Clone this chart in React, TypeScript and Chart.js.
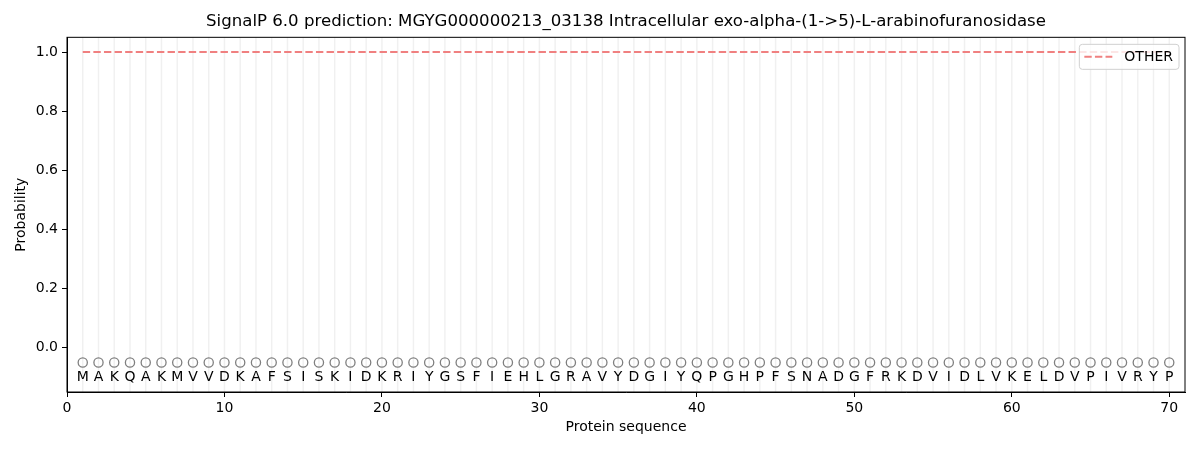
import React, { useEffect, useRef } from 'react';
import Chart from 'chart.js/auto';

const sequence = 'MAKQAKMVVDKAFSISKIDKRIYGSFIEHLGRAVYDGIYQPGHPFSNADGFRKDVIDLVKELDVPIVRYP'.split('');

const otherProb = [
  1, 1, 1, 1, 1, 1, 1, 1, 1, 1,
  1, 1, 1, 1, 1, 1, 1, 1, 1, 1,
  1, 1, 1, 1, 1, 1, 1, 1, 1, 1,
  1, 1, 1, 1, 1, 1, 1, 1, 1, 1,
  1, 1, 1, 1, 1, 1, 1, 1, 1, 1,
  1, 1, 1, 1, 1, 1, 1, 1, 1, 1,
  1, 1, 1, 1, 1, 1, 1, 1, 1, 1,
];

const xTicks = [0, 10, 20, 30, 40, 50, 60, 70];
const yTicks = [0, 0.2, 0.4, 0.6, 0.8, 1.0];

const markerY = -0.05;
const letterY = -0.1;

const FONT = "'DejaVu Sans', sans-serif";

// light vertical guides, one per residue
const residueLines = {
  id: 'residueLines',
  beforeDatasetsDraw(chart: any) {
    const { ctx, chartArea, scales } = chart;
    ctx.save();
    ctx.strokeStyle = 'rgba(0,0,0,0.06)';
    ctx.lineWidth = 1.5;
    sequence.forEach((_, i) => {
      const px = scales.x.getPixelForValue(i + 1);
      ctx.beginPath();
      ctx.moveTo(px, chartArea.top);
      ctx.lineTo(px, chartArea.bottom);
      ctx.stroke();
    });
    ctx.restore();
  },
};

const residueLetters = {
  id: 'residueLetters',
  afterDatasetsDraw(chart: any) {
    const { ctx, chartArea, scales } = chart;
    ctx.save();
    ctx.fillStyle = '#000';
    ctx.font = `14px ${FONT}`;
    ctx.textAlign = 'center';
    ctx.textBaseline = 'middle';
    const py = scales.y.getPixelForValue(letterY);
    sequence.forEach((aa, i) => {
      ctx.fillText(aa, scales.x.getPixelForValue(i + 1), py);
    });
    // top + right spines
    ctx.strokeStyle = '#000';
    ctx.lineWidth = 1;
    ctx.strokeRect(chartArea.left, chartArea.top, chartArea.right - chartArea.left, chartArea.bottom - chartArea.top);
    ctx.restore();
  },
};

const innerLegend = {
  id: 'innerLegend',
  afterDraw(chart: any) {
    const { ctx, chartArea } = chart;
    const ds = chart.data.datasets[0];
    ctx.save();
    ctx.font = `14px ${FONT}`;
    const tw = ctx.measureText(ds.label).width;
    const w = 45 + tw + 6;
    const h = 25;
    const x = chartArea.right - 6 - w;
    const y = chartArea.top + 7;
    ctx.fillStyle = 'rgba(255,255,255,0.8)';
    ctx.strokeStyle = '#d0d0d0';
    ctx.lineWidth = 1;
    ctx.beginPath();
    ctx.roundRect(x, y, w, h, 3);
    ctx.fill();
    ctx.stroke();
    ctx.strokeStyle = ds.borderColor;
    ctx.lineWidth = 2;
    ctx.setLineDash(ds.borderDash);
    ctx.beginPath();
    ctx.moveTo(x + 5, y + h / 2);
    ctx.lineTo(x + 33, y + h / 2);
    ctx.stroke();
    ctx.setLineDash([]);
    ctx.fillStyle = '#000';
    ctx.textBaseline = 'middle';
    ctx.fillText(ds.label, x + 45, y + h / 2 + 1);
    ctx.restore();
  },
};

const App: React.FC = () => {
  const chartRef = useRef<HTMLCanvasElement>(null);

  useEffect(() => {
    document.body.style.margin = '0';
    if (chartRef.current) {
      const myChart = new Chart(chartRef.current, {
        type: 'line',
        data: {
          datasets: [
            {
              label: 'OTHER',
              data: otherProb.map((p, i) => ({ x: i + 1, y: p })),
              borderColor: '#f08080',
              borderWidth: 2,
              borderDash: [7.4, 3.2],
              pointRadius: 0,
              fill: false,
              tension: 0,
            },
            {
              label: 'markers',
              data: sequence.map((_, i) => ({ x: i + 1, y: markerY })),
              showLine: false,
              pointStyle: 'circle',
              pointRadius: 4.6,
              pointBorderWidth: 1.3,
              pointBorderColor: '#7f7f7f',
              pointBackgroundColor: 'rgba(0,0,0,0)',
            },
          ],
        },
        options: {
          responsive: false,
          animation: false,
          layout: { padding: { left: 0, right: 15, top: 0, bottom: 0 } },
          scales: {
            x: {
              type: 'linear',
              min: 0,
              max: 71,
              afterBuildTicks: (s: any) => {
                s.ticks = xTicks.map((v) => ({ value: v }));
              },
              afterFit: (s: any) => {
                s.height = 58;
              },
              grid: { drawOnChartArea: false, drawTicks: true, tickLength: 5, color: '#000' },
              border: { display: true, color: '#000', width: 1 },
              ticks: { color: '#000', padding: 3, font: { family: FONT, size: 14 } },
              title: {
                display: true,
                text: 'Protein sequence',
                color: '#000',
                padding: { top: 0, bottom: 14 },
                font: { family: FONT, size: 14 },
              },
            },
            y: {
              type: 'linear',
              min: -0.15,
              max: 1.05,
              afterBuildTicks: (s: any) => {
                s.ticks = yTicks.map((v) => ({ value: v }));
              },
              afterFit: (s: any) => {
                s.width = 67;
              },
              grid: { drawOnChartArea: false, drawTicks: true, tickLength: 5, color: '#000' },
              border: { display: true, color: '#000', width: 1 },
              ticks: {
                color: '#000',
                padding: 4,
                font: { family: FONT, size: 14 },
                callback: (v: any) => Number(v).toFixed(1),
              },
              title: {
                display: true,
                text: 'Probability',
                color: '#000',
                padding: { top: 13, bottom: 0 },
                font: { family: FONT, size: 14 },
              },
            },
          },
          plugins: {
            legend: { display: false },
            tooltip: { enabled: false },
            title: {
              display: true,
              fullSize: false,
              text: 'SignalP 6.0 prediction: MGYG000000213_03138 Intracellular exo-alpha-(1->5)-L-arabinofuranosidase',
              color: '#000',
              padding: { top: 12, bottom: 5.4 },
              font: { family: FONT, size: 16.6, weight: 'normal' },
            },
          },
        },
        plugins: [residueLines, residueLetters, innerLegend],
      });

      return () => {
        myChart.destroy();
      };
    }
  }, []);

  return (
    <div style={{ width: 1200, height: 450 }}>
      <canvas ref={chartRef} width={1200} height={450} />
    </div>
  );
};

export default App;
